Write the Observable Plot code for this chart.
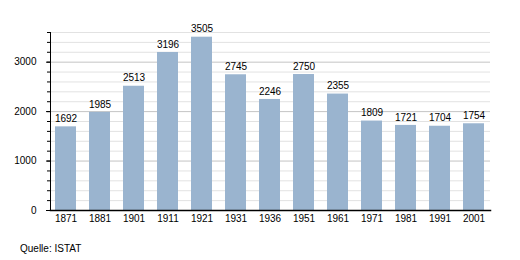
<!DOCTYPE html>
<html>
<head>
<meta charset="utf-8">
<script src="https://cdn.jsdelivr.net/npm/d3@7"></script>
<script src="https://cdn.jsdelivr.net/npm/@observablehq/plot@0.6"></script>
<style>
  body { margin: 0; background: #fff; font-family: "Liberation Sans", Arial, sans-serif; }
  #wrap { position: relative; width: 520px; height: 260px; }
  #caption { position: absolute; left: 20px; top: 243px; font-size: 10px; color: #000; }
</style>
</head>
<body>
<div id="wrap">
  <div id="chart"></div>
  <div id="caption">Quelle: ISTAT</div>
</div>
<script>
const years = ["1871","1881","1901","1911","1921","1931","1936","1951","1961","1971","1981","1991","2001"];
const population = [1692,1985,2513,3196,3505,2745,2246,2750,2355,1809,1721,1704,1754];
const majorTicks = [0,1000,2000,3000];
const minorTicks = [0,200,400,600,800,1000,1200,1400,1600,1800,2000,2200,2400,2600,2800,3000,3200,3400,3600];

const data = years.map((y, i) => ({year: y, pop: population[i]}));

const chart = Plot.plot({
  width: 520,
  height: 228,
  marginLeft: 50,
  marginRight: 30,
  marginTop: 32,
  marginBottom: 18,
  style: {fontFamily: "Liberation Sans, Arial, sans-serif", fontSize: "10px", color: "#000", background: "#fff"},
  x: {domain: years, paddingInner: 0.38, paddingOuter: 0.03, label: null},
  y: {domain: [0, 3600], label: null},
  marks: [
    Plot.ruleY(minorTicks.filter(d => !majorTicks.includes(d)), {stroke: "#e2e2e2", strokeWidth: 1}),
    Plot.ruleY(majorTicks, {stroke: "#c4c4c4", strokeWidth: 1}),
    Plot.barY(data, {x: "year", y: "pop", fill: "#9ab4cf"}),
    Plot.text(data, {x: "year", y: "pop", text: d => String(d.pop), dy: -8, fontSize: 10, fill: "#000"}),
    Plot.axisY({ticks: minorTicks, tickSize: 3, tickFormat: () => "", stroke: "#000"}),
    Plot.axisY({ticks: majorTicks, tickSize: 4, tickPadding: 10, tickFormat: d => String(d), fontSize: 10, label: null}),
    Plot.axisX({tickSize: 0, tickPadding: 4, fontSize: 10, label: null}),
    Plot.frame({anchor: "left", stroke: "#000"}),
    Plot.frame({anchor: "bottom", stroke: "#000", strokeWidth: 1.5})
  ]
});
document.getElementById("chart").appendChild(chart);
</script>
</body>
</html>
